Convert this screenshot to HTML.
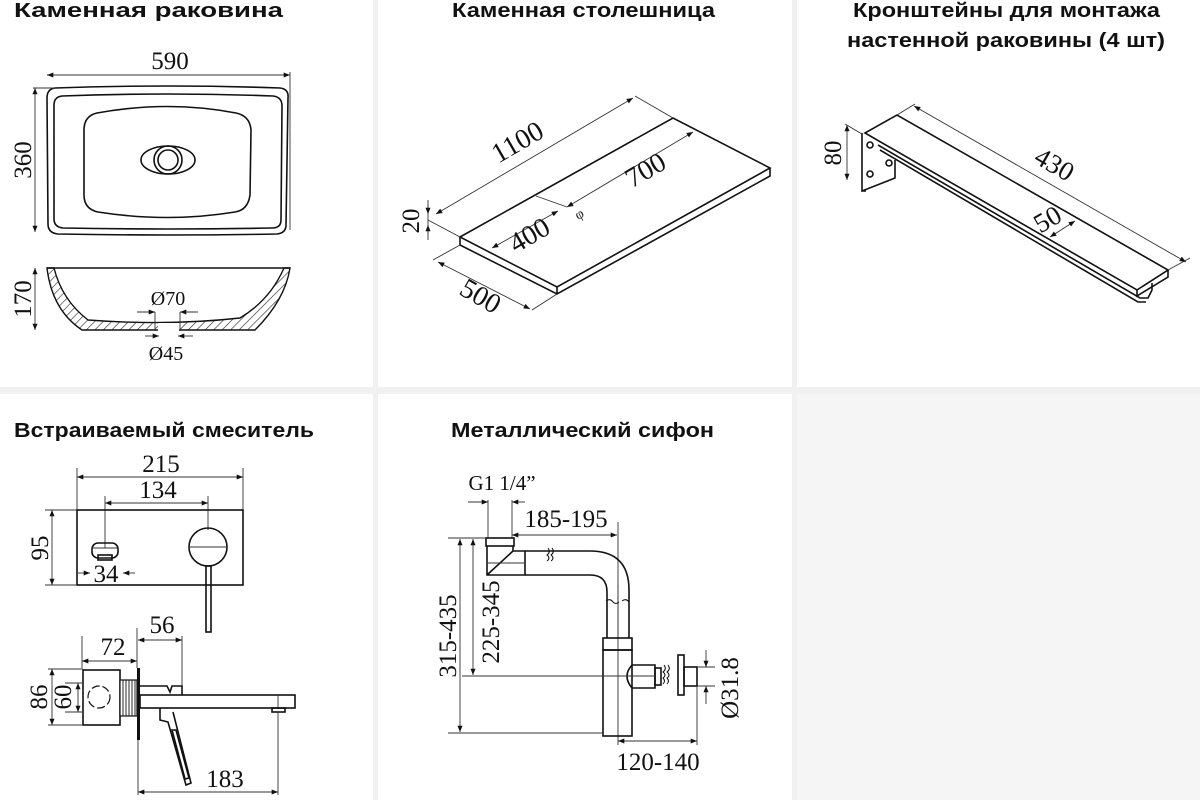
<!DOCTYPE html>
<html><head><meta charset="utf-8"><style>
html,body{margin:0;padding:0;background:#fff;}
svg{display:block}
.t{font-family:"Liberation Sans","DejaVu Sans",sans-serif;font-weight:bold;font-size:20px;fill:#111}
.d{font-family:"Liberation Serif","DejaVu Serif",serif;font-size:25px;fill:#111}
.l{fill:none;stroke:#111;stroke-width:1.6}
.th{fill:none;stroke:#333;stroke-width:0.9}
</style></head><body>
<svg width="1200" height="800" viewBox="0 0 1200 800" xmlns="http://www.w3.org/2000/svg">
<defs>
<marker id="a" viewBox="0 0 10 10" refX="10" refY="5" markerWidth="9" markerHeight="7" orient="auto-start-reverse"><path d="M0,1 L10,5 L0,9 z" fill="#111"/></marker>
<pattern id="h" width="6" height="6" patternUnits="userSpaceOnUse" patternTransform="rotate(45)"><line x1="0" y1="0" x2="0" y2="6" stroke="#222" stroke-width="1.2"/></pattern>
</defs>
<rect x="373" y="0" width="5" height="800" fill="#f1f1f1"/>
<rect x="792" y="0" width="5" height="800" fill="#f1f1f1"/>
<rect x="0" y="387" width="1200" height="7" fill="#f1f1f1"/>
<rect x="797" y="394" width="403" height="406" fill="#f5f5f5"/>

<text class="t" x="14" y="17" textLength="269" lengthAdjust="spacingAndGlyphs">Каменная раковина</text>
<text class="t" x="452" y="17" textLength="263" lengthAdjust="spacingAndGlyphs">Каменная столешница</text>
<text class="t" x="853" y="17" textLength="307" lengthAdjust="spacingAndGlyphs">Кронштейны для монтажа</text>
<text class="t" x="847" y="47" textLength="318" lengthAdjust="spacingAndGlyphs">настенной раковины (4 шт)</text>
<text class="t" x="14" y="437" textLength="300" lengthAdjust="spacingAndGlyphs">Встраиваемый смеситель</text>
<text class="t" x="451" y="437" textLength="263" lengthAdjust="spacingAndGlyphs">Металлический сифон</text>

<!-- SINK -->
<line class="th" x1="47" y1="75" x2="290" y2="75" marker-start="url(#a)" marker-end="url(#a)"/>
<line class="th" x1="290" y1="72" x2="290" y2="230"/>
<text class="d" x="170" y="69" text-anchor="middle">590</text>
<path class="l" d="M55,88 Q168,84 280,88 Q289,89 288,98 L286,225 Q286,233 277,234 Q168,236 58,234 Q48,233 48,224 L47,98 Q47,89 55,88 Z"/>
<path class="l" d="M62,96 Q168,92 273,96 Q282,97 282,106 L281,220 Q281,228 272,228 Q168,230 63,228 Q54,227 54,219 L54,105 Q54,97 62,96 Z"/>
<path class="l" d="M97,113 Q168,100 236,113 Q250,116 251,130 L250,195 Q248,210 235,212 Q168,223 98,212 Q84,209 84,195 L84,130 Q84,116 97,113 Z"/>
<ellipse class="l" cx="168" cy="160" rx="27" ry="14"/>
<circle class="l" cx="168" cy="160" r="14"/>
<circle class="l" cx="168" cy="160" r="10"/>
<line class="th" x1="35" y1="88" x2="35" y2="232" marker-start="url(#a)" marker-end="url(#a)"/>
<line class="th" x1="33" y1="88" x2="55" y2="88"/>
<text class="d" transform="translate(31,160) rotate(-90)" text-anchor="middle">360</text>
<path d="M47,268 Q52,310 82,330 L255,330 Q285,300 290,268 L284,268 Q270,300 240,318 Q168,326 88,320 Q62,300 54,268 Z" fill="url(#h)" stroke="#111" stroke-width="1.4"/>
<line class="l" x1="47" y1="268" x2="290" y2="268"/>
<rect x="158" y="323" width="21" height="8" fill="#fff"/>
<line class="th" x1="155" y1="312" x2="155" y2="330"/><line class="th" x1="180" y1="312" x2="180" y2="330"/>
<line class="th" x1="137" y1="312" x2="155" y2="312" marker-end="url(#a)"/><line class="th" x1="198" y1="312" x2="180" y2="312" marker-end="url(#a)"/>
<line class="th" x1="145" y1="336" x2="159" y2="336" marker-end="url(#a)"/><line class="th" x1="193" y1="336" x2="178" y2="336" marker-end="url(#a)"/>
<text class="d" x="168" y="305" text-anchor="middle" style="font-size:20px">Ø70</text>
<text class="d" x="166" y="360" text-anchor="middle" style="font-size:20px">Ø45</text>
<line class="th" x1="35" y1="268" x2="35" y2="330" marker-start="url(#a)" marker-end="url(#a)"/>
<text class="d" transform="translate(31,299) rotate(-90)" text-anchor="middle">170</text>

<!-- COUNTERTOP -->
<path class="l" d="M460,237 L673,118 L770,168 L557,287 Z"/>
<path class="l" d="M460,237 L460,245 L557,294 L770,176 L770,168 M557,287 L557,294"/>
<line class="th" x1="673" y1="118" x2="635" y2="96"/>
<line class="th" x1="460" y1="237" x2="428" y2="220"/>
<line class="th" x1="436" y1="214" x2="633" y2="98" marker-start="url(#a)" marker-end="url(#a)"/>
<text class="d" transform="translate(522,150) rotate(-30)" text-anchor="middle" style="font-size:28px">1100</text>
<line class="th" x1="567" y1="207" x2="693" y2="132" marker-start="url(#a)" marker-end="url(#a)"/>
<text class="d" transform="translate(650,178) rotate(-30)" text-anchor="middle" style="font-size:28px">700</text>
<line class="th" x1="536" y1="196" x2="567" y2="207"/>
<line class="th" x1="492" y1="248" x2="558" y2="211" marker-start="url(#a)" marker-end="url(#a)"/>
<text class="d" transform="translate(534,243) rotate(-30)" text-anchor="middle" style="font-size:28px">400</text>
<text class="d" transform="translate(578,220) rotate(-30)" style="font-size:14px">φ</text>
<line class="th" x1="460" y1="245" x2="433" y2="260"/>
<line class="th" x1="557" y1="294" x2="532" y2="310"/>
<line class="th" x1="438" y1="262" x2="530" y2="309" marker-start="url(#a)" marker-end="url(#a)"/>
<text class="d" transform="translate(476,304) rotate(30)" text-anchor="middle" style="font-size:28px">500</text>
<line class="th" x1="428" y1="200" x2="428" y2="240"/>
<line class="th" x1="428" y1="205" x2="428" y2="214" marker-end="url(#a)"/><line class="th" x1="428" y1="234" x2="428" y2="225" marker-end="url(#a)"/>
<text class="d" transform="translate(419,221) rotate(-90)" text-anchor="middle">20</text>

<!-- BRACKET -->
<path class="l" d="M865,133 L897,115 L1168,270 L1137,290 Z"/>
<path class="l" d="M862,133 L862,191 L895,178 L895,160 M862,191 L866,191"/>
<path class="l" d="M878,145 L1140,298 L1148,298 L1152,290 L1152,283"/>
<path class="l" d="M880,150 L1138,302 L1146,302"/>
<path class="l" d="M1137,290 L1137,296 L1168,277 L1168,270"/>
<circle class="l" cx="870" cy="145" r="3"/><circle class="l" cx="889" cy="163" r="3"/><circle class="l" cx="870" cy="174" r="3"/>
<line class="th" x1="847" y1="125" x2="847" y2="180" marker-start="url(#a)" marker-end="url(#a)"/>
<line class="th" x1="845" y1="124" x2="862" y2="134"/>
<text class="d" transform="translate(841,153) rotate(-90)" text-anchor="middle">80</text>
<line class="th" x1="897" y1="115" x2="915" y2="104"/>
<line class="th" x1="1168" y1="270" x2="1190" y2="258"/>
<line class="th" x1="914" y1="106" x2="1186" y2="262" marker-start="url(#a)" marker-end="url(#a)"/>
<text class="d" transform="translate(1050,172) rotate(30)" text-anchor="middle" style="font-size:27px">430</text>
<line class="th" x1="1050" y1="237" x2="1075" y2="221" marker-start="url(#a)" marker-end="url(#a)"/>
<text class="d" transform="translate(1052,227) rotate(-30)" text-anchor="middle" style="font-size:27px">50</text>

<!-- MIXER -->
<line class="th" x1="77" y1="468" x2="77" y2="510"/><line class="th" x1="243" y1="468" x2="243" y2="510"/>
<line class="th" x1="77" y1="477" x2="243" y2="477" marker-start="url(#a)" marker-end="url(#a)"/>
<text class="d" x="161" y="472" text-anchor="middle">215</text>
<line class="th" x1="105" y1="496" x2="105" y2="548"/><line class="th" x1="208" y1="496" x2="208" y2="530"/>
<line class="th" x1="105" y1="503" x2="208" y2="503" marker-start="url(#a)" marker-end="url(#a)"/>
<text class="d" x="158" y="498" text-anchor="middle">134</text>
<rect class="l" x="77" y="510" width="166" height="75"/>
<line class="th" x1="45" y1="510" x2="77" y2="510"/><line class="th" x1="45" y1="585" x2="77" y2="585"/>
<line class="th" x1="52" y1="510" x2="52" y2="585" marker-start="url(#a)" marker-end="url(#a)"/>
<text class="d" transform="translate(48,548) rotate(-90)" text-anchor="middle">95</text>
<rect class="l" x="92" y="543" width="26" height="15" rx="6"/>
<line class="th" x1="92" y1="548" x2="118" y2="548"/>
<rect class="l" x="98" y="555" width="14" height="5"/>
<line class="th" x1="78" y1="573" x2="90" y2="573" marker-end="url(#a)"/><line class="th" x1="135" y1="573" x2="123" y2="573" marker-end="url(#a)"/>
<text class="d" x="106" y="582" text-anchor="middle">34</text>
<circle class="l" cx="208" cy="547" r="19"/>
<line class="th" x1="190" y1="547" x2="226" y2="547"/>
<rect class="l" x="206" y="566" width="5" height="66"/>
<line class="th" x1="82" y1="636" x2="82" y2="668"/><line class="th" x1="137" y1="628" x2="137" y2="668"/><line class="th" x1="182" y1="636" x2="182" y2="695"/>
<line class="th" x1="82" y1="661" x2="137" y2="661" marker-start="url(#a)" marker-end="url(#a)"/>
<text class="d" x="113" y="655" text-anchor="middle">72</text>
<line class="th" x1="138" y1="640" x2="182" y2="640" marker-start="url(#a)" marker-end="url(#a)"/>
<text class="d" x="162" y="633" text-anchor="middle">56</text>
<rect class="l" x="83" y="670" width="37" height="55"/>
<rect x="120" y="680" width="17" height="36" fill="#fff" stroke="#111" stroke-width="1.2"/>
<g stroke="#111" stroke-width="0.9"><line x1="123" y1="680" x2="123" y2="716"/><line x1="126" y1="680" x2="126" y2="716"/><line x1="129" y1="680" x2="129" y2="716"/><line x1="132" y1="680" x2="132" y2="716"/><line x1="135" y1="680" x2="135" y2="716"/></g>
<rect x="137" y="668" width="3" height="72" fill="#111"/>
<circle cx="99" cy="697" r="11" fill="none" stroke="#111" stroke-width="1.2" stroke-dasharray="8 3"/>
<path class="l" d="M140,686 L167,686 L170,692 L172,686 L182,686 L182,695"/>
<rect class="l" x="140" y="695" width="155" height="13"/>
<line class="th" x1="278" y1="695" x2="278" y2="708"/>
<rect class="l" x="272" y="708" width="13" height="4"/>
<path class="l" d="M160,708 L160,720 L168,722 L186,785 L191,783 L173,712"/>
<path class="l" d="M172,730 L176,730 L189,778 L185,779 Z"/>
<line class="th" x1="48" y1="669" x2="83" y2="669"/><line class="th" x1="48" y1="725" x2="83" y2="725"/>
<line class="th" x1="52" y1="669" x2="52" y2="725" marker-start="url(#a)" marker-end="url(#a)"/>
<line class="th" x1="65" y1="683" x2="83" y2="683"/><line class="th" x1="65" y1="712" x2="83" y2="712"/>
<line class="th" x1="78" y1="683" x2="78" y2="712" marker-start="url(#a)" marker-end="url(#a)"/>
<text class="d" transform="translate(47,697) rotate(-90)" text-anchor="middle">86</text>
<text class="d" transform="translate(71,697) rotate(-90)" text-anchor="middle">60</text>
<line class="th" x1="138" y1="740" x2="138" y2="795"/><line class="th" x1="278" y1="712" x2="278" y2="795"/>
<line class="th" x1="138" y1="792" x2="278" y2="792" marker-start="url(#a)" marker-end="url(#a)"/>
<text class="d" x="225" y="787" text-anchor="middle">183</text>

<!-- SIPHON -->
<text class="d" x="502" y="490" text-anchor="middle" style="font-size:21px">G1 1/4”</text>
<line class="th" x1="468" y1="502" x2="488" y2="502" marker-end="url(#a)"/><line class="th" x1="525" y1="502" x2="512" y2="502" marker-end="url(#a)"/>
<line class="th" x1="488" y1="500" x2="488" y2="538"/><line class="th" x1="512" y1="500" x2="512" y2="538"/>
<line class="th" x1="512" y1="535" x2="617" y2="535" marker-start="url(#a)" marker-end="url(#a)"/>
<text class="d" x="566" y="527" text-anchor="middle">185-195</text>
<line class="th" x1="618" y1="522" x2="618" y2="745"/>
<rect class="l" x="486" y="538" width="28" height="8"/>
<path class="l" d="M487,546 L487,575 L525,575 L525,551 L513,551 L513,546 M487,575 L513,551"/>
<line class="th" x1="487" y1="563" x2="525" y2="563"/>
<path class="l" d="M525,551 L590,551 Q629,551 629,590 L629,638 M525,575 L590,575 Q607,575 607,592 L607,638"/>
<line class="th" x1="618" y1="585" x2="618" y2="638"/>
<rect class="l" x="603" y="638" width="29" height="12"/>
<rect class="l" x="603" y="650" width="29" height="86"/>
<path class="l" d="M632,665 L655,665 L655,688 L632,688 M632,665 Q622,676 632,688"/>
<rect class="l" x="655" y="668" width="6" height="17"/>
<rect class="l" x="678" y="655" width="6" height="40"/>
<rect class="l" x="684" y="667" width="13" height="19"/>
<g stroke="#111" stroke-width="1" fill="none"><path d="M548,548 q3,4 -1,7 q4,3 0,6 M552,548 q3,4 -1,7 q4,3 0,6"/><path d="M606,601 q4,-3 7,1 q3,3 6,0 M622,601 q4,-3 7,1"/><path d="M664,665 q3,4 -1,7 q4,3 0,6 q3,3 0,6 M668,665 q3,4 -1,7 q4,3 0,6 q3,3 0,6"/></g>
<line class="th" x1="448" y1="538" x2="486" y2="538"/>
<line class="th" x1="448" y1="733" x2="603" y2="733"/>
<line class="th" x1="462" y1="676" x2="655" y2="676"/>
<line class="th" x1="460" y1="539" x2="460" y2="732" marker-start="url(#a)" marker-end="url(#a)"/>
<line class="th" x1="473" y1="539" x2="473" y2="675" marker-start="url(#a)" marker-end="url(#a)"/>
<text class="d" transform="translate(456,636) rotate(-90)" text-anchor="middle">315-435</text>
<text class="d" transform="translate(499,622) rotate(-90)" text-anchor="middle">225-345</text>
<line class="th" x1="697" y1="667" x2="715" y2="667"/><line class="th" x1="697" y1="686" x2="715" y2="686"/>
<line class="th" x1="706" y1="650" x2="706" y2="667" marker-end="url(#a)"/><line class="th" x1="706" y1="704" x2="706" y2="686" marker-end="url(#a)"/>
<text class="d" transform="translate(738,688) rotate(-90)" text-anchor="middle">Ø31.8</text>
<line class="th" x1="697" y1="686" x2="697" y2="745"/>
<line class="th" x1="618" y1="741" x2="697" y2="741" marker-start="url(#a)" marker-end="url(#a)"/>
<text class="d" x="658" y="770" text-anchor="middle">120-140</text>
</svg>
</body></html>
